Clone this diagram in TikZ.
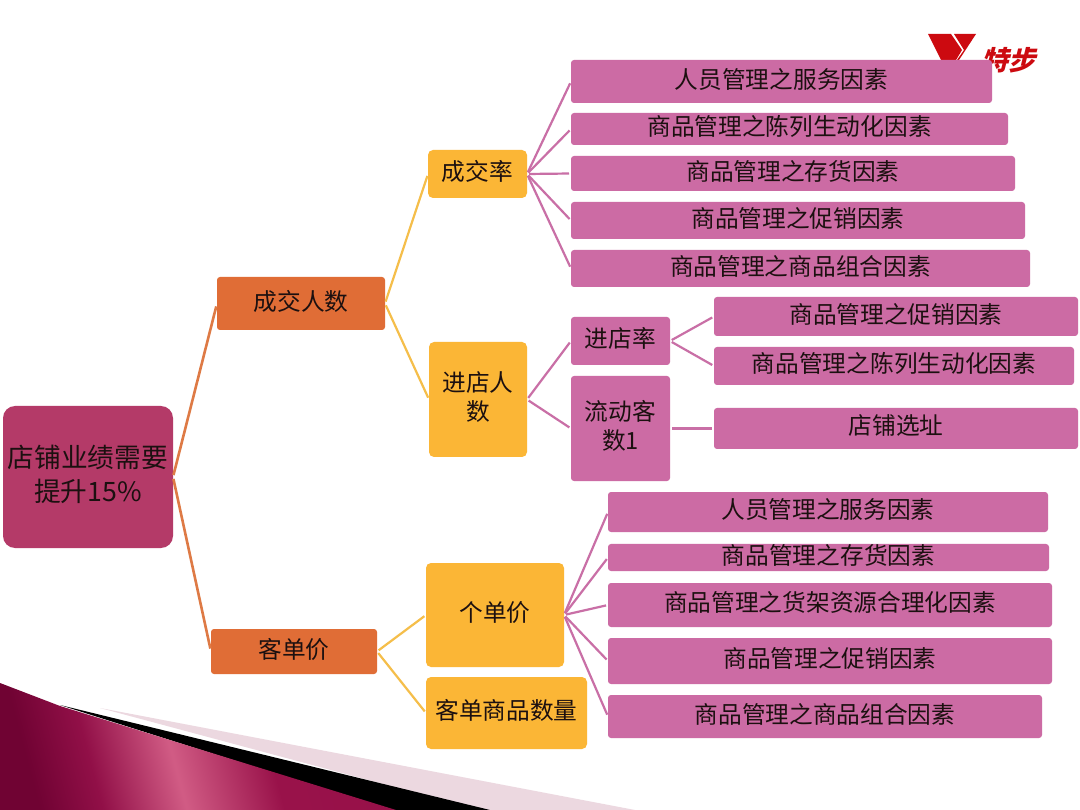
\documentclass[tikz,border=0pt]{standalone}
\usepackage{fontspec}
\setmainfont{Noto Sans CJK SC}
\usetikzlibrary{calc}
\definecolor{rootfill}{HTML}{B43A68}
\definecolor{orangefill}{HTML}{E06D36}
\definecolor{yellowfill}{HTML}{FBB636}
\definecolor{pinkfill}{HTML}{CC6BA4}
\definecolor{ink}{HTML}{1C1010}
\definecolor{logored}{HTML}{CC0A10}
\definecolor{orangeline}{HTML}{DE7A45}
\definecolor{yellowline}{HTML}{F5BE4A}
\definecolor{pinkline}{HTML}{C96FA6}
\definecolor{palepink}{HTML}{ECD8E0}
\pgfdeclarehorizontalshading{marshade}{100bp}{
  color(0bp)=(black!0!white);
  rgb(0bp)=(0.44,0.01,0.20);
  rgb(25bp)=(0.44,0.01,0.20);
  rgb(34bp)=(0.57,0.06,0.28);
  rgb(46bp)=(0.82,0.36,0.52);
  rgb(60bp)=(0.60,0.07,0.29);
  rgb(100bp)=(0.58,0.06,0.28)}
\tikzset{
  x=1pt,y=-1pt,
  base/.style={inner sep=0pt,outer sep=0pt,text=ink,align=center,text depth=7pt,font=\fontsize{23.7}{29}\selectfont},
  rootbox/.style={base,fill=rootfill,rounded corners=12pt,font=\fontsize{26.7}{34}\selectfont},
  orangebox/.style={base,fill=orangefill,rounded corners=3pt},
  yellowbox/.style={base,fill=yellowfill,rounded corners=5pt},
  pinkbox/.style={base,fill=pinkfill,rounded corners=3pt},
  rootlink/.style={draw=orangeline,line width=2.6pt,shorten >=3pt,shorten <=2pt},
  yellowlink/.style={draw=yellowline,line width=2.2pt,shorten >=2pt,shorten <=2pt},
  pinklink/.style={draw=pinkline,line width=2.2pt,shorten >=2pt,shorten <=2pt},
}
\newcommand{\boxnode}[7]{\node[#1,minimum width={(#5-#3)*1pt},minimum height={(#6-#4)*1pt},anchor=center] (#2) at ({(#3+#5)/2},{(#4+#6)/2}) {#7};}
\begin{document}
\begin{tikzpicture}
\useasboundingbox (0,0) rectangle (1080,810);
\fill[white] (0,0) rectangle (1080,810);
% corner decoration
\fill[palepink] (100,708) -- (635,810) -- (480,810) -- cycle;
\fill[black] (60,705) -- (490,810) -- (390,810) -- cycle;
\shade[shading=marshade,shading angle=15]
  (0,683) -- (60,706) -- (396,810) -- (0,810) -- cycle;
% logo
\fill[logored] (928,34) -- (951,34) -- (962,50) -- (956,60) -- (941,60) -- cycle;
\fill[logored] (954,34) -- (976,34) -- (959,60) -- (957,60) -- (964,50) -- cycle;
\node[inner sep=0pt,text=logored,font=\bfseries\fontsize{27}{27}\selectfont,xslant=0.25] (logo) at (1011,60) {特步};
% nodes
\boxnode{rootbox}{root}{3}{406}{173}{548}{店铺业绩需要\\提升15\%}
\boxnode{orangebox}{deal}{217}{277}{385}{330}{成交人数}
\boxnode{orangebox}{price}{211}{629}{377}{674}{客单价}
\boxnode{yellowbox}{rate}{428}{150}{527}{198}{成交率}
\boxnode{yellowbox}{enter}{429}{342}{527}{457}{进店人\\数}
\boxnode{yellowbox}{unit}{426}{563}{564}{667}{个单价}
\boxnode{yellowbox}{qty}{426}{677}{587}{749}{客单商品数量}
\boxnode{pinkbox}{a1}{571}{60}{992}{103}{人员管理之服务因素}
\boxnode{pinkbox}{a2}{571}{113}{1008}{145}{商品管理之陈列生动化因素}
\boxnode{pinkbox}{a3}{571}{156}{1015}{191}{商品管理之存货因素}
\boxnode{pinkbox}{a4}{571}{202}{1025}{239}{商品管理之促销因素}
\boxnode{pinkbox}{a5}{571}{250}{1030}{287}{商品管理之商品组合因素}
\boxnode{pinkbox}{b1}{571}{317}{670}{365}{进店率}
\boxnode{pinkbox}{b2}{571}{376}{670}{481}{流动客\\数1}
\boxnode{pinkbox}{c1}{714}{297}{1078}{336}{商品管理之促销因素}
\boxnode{pinkbox}{c2}{714}{347}{1074}{385}{商品管理之陈列生动化因素}
\boxnode{pinkbox}{c3}{714}{408}{1078}{449}{店铺选址}
\boxnode{pinkbox}{d1}{608}{492}{1048}{532}{人员管理之服务因素}
\boxnode{pinkbox}{d2}{608}{544}{1049}{571}{商品管理之存货因素}
\boxnode{pinkbox}{d3}{608}{583}{1052}{627}{商品管理之货架资源合理化因素}
\boxnode{pinkbox}{d4}{608}{638}{1052}{684}{商品管理之促销因素}
\boxnode{pinkbox}{d5}{608}{695}{1042}{738}{商品管理之商品组合因素}
% connectors
\draw[rootlink] (root.east) -- (deal.west);
\draw[rootlink] (root.east) -- (price.west);
\draw[yellowlink] (deal.east) -- (rate.west);
\draw[yellowlink] (deal.east) -- (enter.west);
\draw[yellowlink] (price.east) -- (unit.west);
\draw[yellowlink] (price.east) -- (qty.west);
\foreach \t in {a1,a2,a3,a4,a5} \draw[pinklink] (rate.east) -- (\t.west);
\foreach \t in {b1,b2} \draw[pinklink] (enter.east) -- (\t.west);
\foreach \t in {c1,c2} \draw[pinklink] (b1.east) -- (\t.west);
\draw[pinklink] (b2.east) -- (c3.west);
\foreach \t in {d1,d2,d3,d4,d5} \draw[pinklink] (unit.east) -- (\t.west);
\end{tikzpicture}
\end{document}
